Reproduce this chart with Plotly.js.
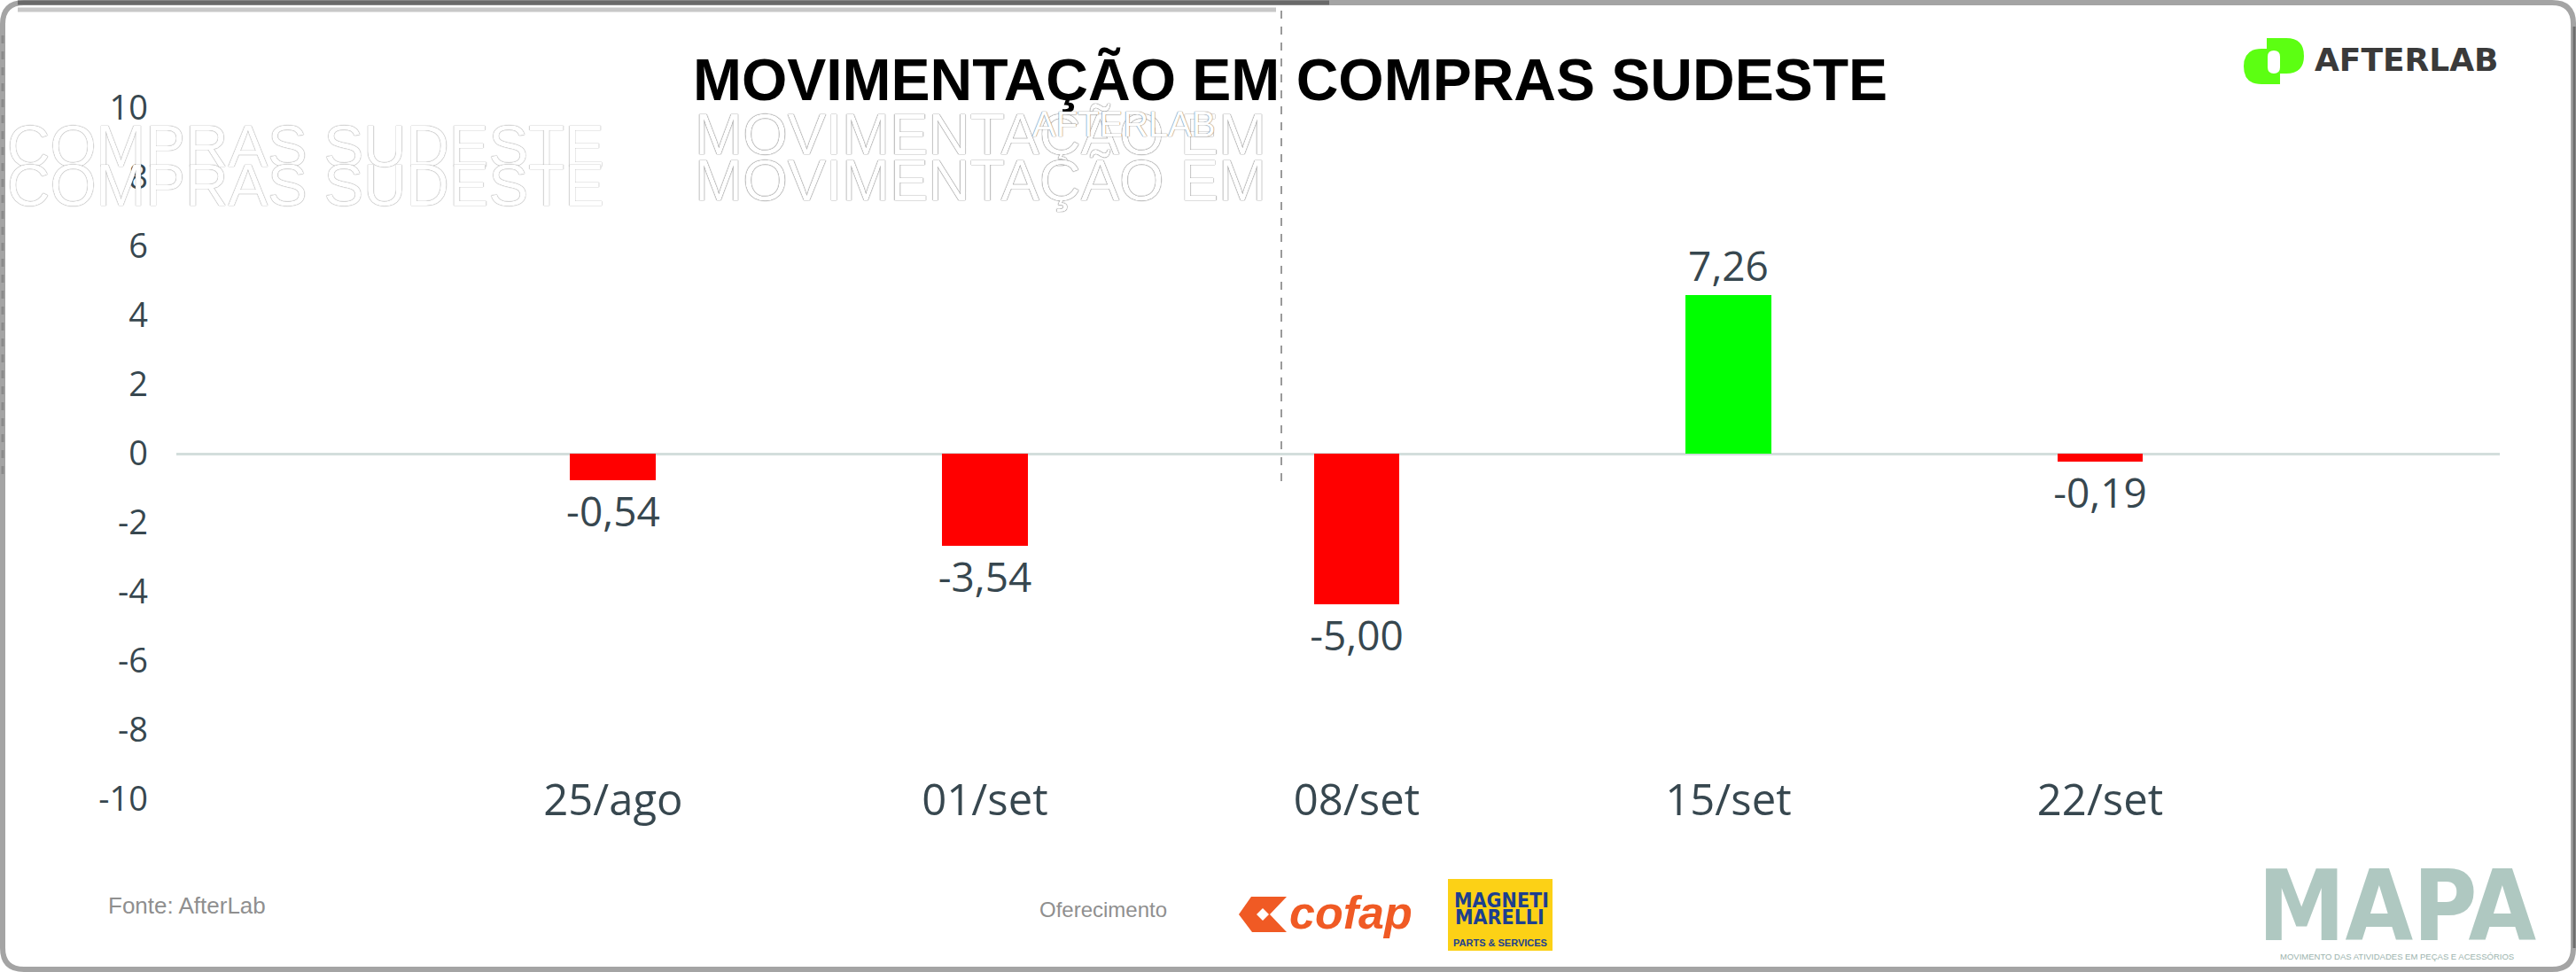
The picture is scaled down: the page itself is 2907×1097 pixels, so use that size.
<!DOCTYPE html>
<html><head><meta charset="utf-8">
<script src="https://cdn.plot.ly/plotly-3.0.1.min.js"></script>
<style>html,body{margin:0;padding:0;background:#fff;overflow:hidden}#chart{width:2907px;height:1097px}</style>
</head><body><div id="chart"></div>
<script>
// ---- data ----
const categories = ["25/ago", "01/set", "08/set", "15/set", "22/set"];
const barValues = [-0.77, -2.67, -4.36, 4.59, -0.23];      // bar heights as drawn against the axis
const valueLabels = ["-0,54", "-3,54", "-5,00", "7,26", "-0,19"]; // data labels as printed
const yTickValues = [-10, -8, -6, -4, -2, 0, 2, 4, 6, 8, 10];
const yTickLabels = ["-10", "-8", "-6", "-4", "-2", "0", "2", "4", "6", "8", "10"];

// ---- page geometry ----
const W = 2907, H = 1097, ML = 199, MR = 86, MT = 122, MB = 195;
const PW = W - ML - MR, PH = H - MT - MB;
const X = p => (p - ML) / PW;
const Y = p => (H - MB - p) / PH;
function path(pts) { // pts: array of [cmd, x, y, ...] in page pixels
  return pts.map(s => {
    const c = s[0]; const r = [];
    for (let i = 1; i < s.length; i += 2) r.push(X(s[i]).toFixed(5) + ',' + Y(s[i + 1]).toFixed(5));
    return c + ' ' + r.join(' ');
  }).join(' ') + ' Z';
}
function note(text, px, py, font, extra) {
  return Object.assign({text: text, x: X(px), y: Y(py), xref: 'paper', yref: 'paper',
    showarrow: false, xanchor: 'center', yanchor: 'middle', font: font}, extra || {});
}

const textColor = '#37474f';
const barColors = barValues.map(v => v >= 0 ? '#00ff00' : '#ff0000');

const trace = {
  type: 'bar', x: categories, y: barValues, width: 0.231,
  marker: {color: barColors, line: {width: 0}},
  text: valueLabels, textposition: 'outside', constraintext: 'none', cliponaxis: false,
  textfont: {family: 'Open Sans', size: 46, color: textColor},
  hoverinfo: 'none'
};

const r = 24, fx0 = 3, fy0 = 3, fx1 = 2904, fy1 = 1094;
const shapes = [
  // card frame
  {type: 'path', xref: 'paper', yref: 'paper', line: {color: '#a4a4a4', width: 6}, fillcolor: 'rgba(0,0,0,0)',
   path: path([['M', fx0 + r, fy0], ['L', fx1 - r, fy0], ['Q', fx1, fy0, fx1, fy0 + r], ['L', fx1, fy1 - r],
               ['Q', fx1, fy1, fx1 - r, fy1], ['L', fx0 + r, fy1], ['Q', fx0, fy1, fx0, fy1 - r], ['L', fx0, fy0 + r],
               ['Q', fx0, fy0, fx0 + r, fy0]])},
  {type: 'line', xref: 'paper', yref: 'paper', x0: X(20), x1: X(1500), y0: Y(3), y1: Y(3), line: {color: '#6a6a6a', width: 5}},
  {type: 'line', xref: 'paper', yref: 'paper', x0: X(20), x1: X(1440), y0: Y(11), y1: Y(11), line: {color: '#c8c8c8', width: 5}},
  {type: 'line', xref: 'paper', yref: 'paper', x0: X(fx1 + 1), x1: X(fx1 + 1), y0: Y(30), y1: Y(1070), line: {color: '#6e6e6e', width: 3}},
  {type: 'line', xref: 'paper', yref: 'paper', x0: X(3), x1: X(3), y0: Y(40), y1: Y(540), line: {color: '#8a8a8a', width: 3, dash: 'dash'}},
  // ghost dashed line
  {type: 'line', xref: 'paper', yref: 'paper', x0: X(1446), x1: X(1446), y0: Y(12), y1: Y(545), line: {color: '#9a9a9a', width: 2, dash: 'dash'}},
  // AfterLab icon
  {type: 'path', xref: 'paper', yref: 'paper', fillcolor: '#5cff12', line: {width: 0},
   path: path([['M', 2573, 55], ['L', 2552, 55], ['Q', 2532, 55, 2532, 75], ['Q', 2532, 95, 2552, 95], ['L', 2573, 95]])},
  {type: 'path', xref: 'paper', yref: 'paper', fillcolor: '#5cff12', line: {width: 0},
   path: path([['M', 2558, 43], ['L', 2580, 43], ['Q', 2600, 43, 2600, 63], ['Q', 2600, 83, 2580, 83], ['L', 2558, 83]])},
  {type: 'path', xref: 'paper', yref: 'paper', fillcolor: '#ffffff', line: {width: 0},
   path: path([['M', 2566, 57], ['Q', 2573, 57, 2573, 64], ['L', 2573, 76], ['Q', 2573, 83, 2566, 83], ['Q', 2559, 83, 2559, 76], ['L', 2559, 64], ['Q', 2559, 57, 2566, 57]])},
  // cofap mark
  {type: 'path', xref: 'paper', yref: 'paper', fillcolor: '#f05a24', line: {width: 0},
   path: path([['M', 1412, 1012], ['L', 1452, 1012], ['L', 1433, 1032], ['L', 1452, 1052], ['L', 1413, 1052], ['L', 1398, 1032]])},
  {type: 'path', xref: 'paper', yref: 'paper', fillcolor: '#ffffff', line: {width: 0},
   path: path([['M', 1418, 1032], ['L', 1425, 1025], ['L', 1432, 1032], ['L', 1425, 1039]])},
  // Magneti Marelli box
  {type: 'rect', xref: 'paper', yref: 'paper', x0: X(1634), x1: X(1752), y0: Y(992), y1: Y(1073), fillcolor: '#fcd116', line: {width: 0}}
];

const ghostA = {family: 'Liberation Sans', size: 67, color: '#ffffff', shadow: '0px 0px 1px #8c8c8c, 0px 0px 1px #8c8c8c'};
const ghostB = {family: 'Liberation Sans', size: 65, color: '#ffffff', shadow: '0px 0px 1px #555555, 0px 0px 1px #555555'};
const annotations = [
  // ghost artifacts
  note('COMPRAS SUDESTE', 345, 164, ghostA),
  note('COMPRAS SUDESTE', 345, 208, ghostA),
  note('MOVIMENTAÇÃO EM', 1106, 152, ghostB),
  note('MOVIMENTAÇÃO EM', 1106, 204, ghostB),
  note('AFTERLAB', 1268, 140, {family: 'Liberation Sans', size: 40, color: '#ffffff', shadow: '0px 0px 1px #6a6a6a, 0px 0px 1px #6a6a6a'}),
  // logos and footer
  note('AFTERLAB', 2610, 67, {family: 'DejaVu Sans', size: 36, color: '#3a3a3a', weight: 'bold'}, {xanchor: 'left'}),
  note('Fonte: AfterLab', 120, 1022, {family: 'Liberation Sans', size: 26, color: '#8f8f8f'}, {xanchor: 'left'}),
  note('Oferecimento', 1171, 1026, {family: 'Liberation Sans', size: 24, color: '#8f8f8f'}, {xanchor: 'left'}),
  note('cofap', 1453, 1030, {family: 'Liberation Sans', size: 52, color: '#f05a24', weight: 'bold', style: 'italic'}, {xanchor: 'left'}),
  note('MAGNETI', 1694, 1016, {family: 'Liberation Sans Narrow, DejaVu Sans Condensed, sans-serif', size: 23, color: '#1d3f8f', weight: 'bold'}),
  note('MARELLI', 1692, 1035, {family: 'Liberation Sans Narrow, DejaVu Sans Condensed, sans-serif', size: 23, color: '#1d3f8f', weight: 'bold'}),
  note('PARTS &amp; SERVICES', 1693, 1064, {family: 'Liberation Sans', size: 11, color: '#1d3f8f', weight: 'bold'}),
  note('MAPA', 2705, 1023, {family: 'Liberation Sans Narrow, DejaVu Sans Condensed, sans-serif', size: 110, color: '#afc8c1', weight: 'bold'}),
  note('MOVIMENTO DAS ATIVIDADES EM PEÇAS E ACESSÓRIOS', 2705, 1079, {family: 'Liberation Sans', size: 9.5, color: '#9bb3ad'})
];

const layout = {
  width: W, height: H, autosize: false,
  margin: {l: ML, r: MR, t: MT, b: MB, pad: 0},
  paper_bgcolor: '#ffffff', plot_bgcolor: '#ffffff',
  showlegend: false,
  title: {text: 'MOVIMENTAÇÃO EM COMPRAS SUDESTE', xref: 'container', yref: 'container',
          x: 1456 / W, xanchor: 'center', y: 1 - 67 / H, yanchor: 'top',
          font: {family: 'Liberation Sans', size: 66, color: '#000000', weight: 'bold'}},
  xaxis: {type: 'category', range: [-1.175, 5.075], showgrid: false, zeroline: false, showline: false,
          ticks: '', tickfont: {family: 'Open Sans', size: 49, color: textColor}, ticklabelstandoff: -32,
          fixedrange: true},
  yaxis: {range: [-10, 10], tickmode: 'array', tickvals: yTickValues, ticktext: yTickLabels,
          showgrid: false, zeroline: true, zerolinecolor: '#d3dedc', zerolinewidth: 3, showline: false,
          ticks: '', tickfont: {family: 'Open Sans', size: 38, color: textColor}, ticklabelstandoff: 31,
          fixedrange: true},
  bargap: 0,
  shapes: shapes,
  annotations: annotations
};

Plotly.newPlot('chart', [trace], layout, {displayModeBar: false, staticPlot: true});
</script>
</body></html>
